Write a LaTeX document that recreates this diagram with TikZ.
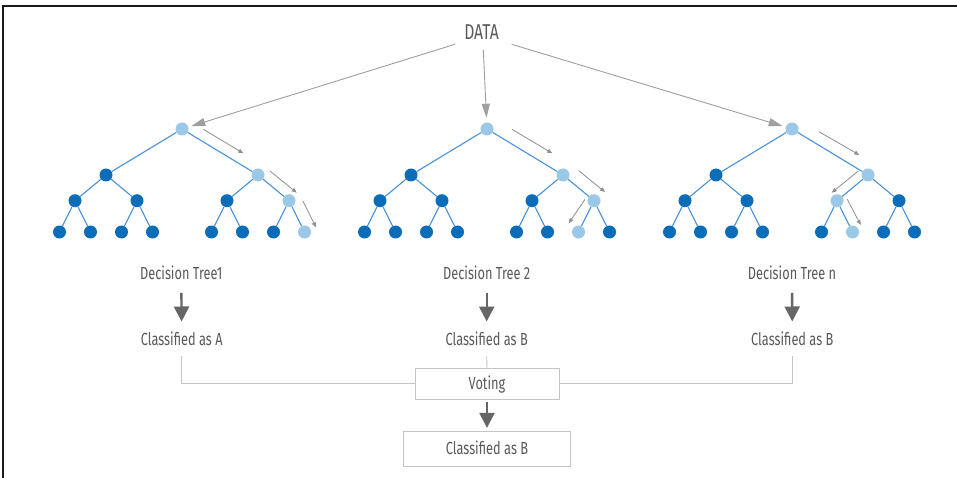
\documentclass[tikz,border=0pt]{standalone}
\usepackage{fontspec}
\setmainfont[FakeStretch=0.73]{Fira Sans}
\usetikzlibrary{arrows.meta}
\definecolor{dblue}{HTML}{0B6DB7}
\definecolor{lblue}{HTML}{9CC8E7}
\definecolor{eblue}{HTML}{4A92D8}
\definecolor{tgray}{HTML}{5A5A5A}
\definecolor{agray}{HTML}{8E8E8E}
\definecolor{hgray}{HTML}{666666}
\definecolor{bgray}{HTML}{C4C4C4}

\newcommand\hlnode[1]{\expandafter\def\csname hl@#1\endcsname{}}
\hlnode{t1r}\hlnode{t1b}\hlnode{t1bb}\hlnode{t1bbb}
\hlnode{t2r}\hlnode{t2b}\hlnode{t2bb}\hlnode{t2bba}
\hlnode{t3r}\hlnode{t3b}\hlnode{t3ba}\hlnode{t3bab}

\newcommand\treenode[3]{%
  \ifcsname hl@#1\endcsname\def\nodefill{lblue}\else\def\nodefill{dblue}\fi
  \node[tnode,fill=\nodefill] (#1) at (#2,#3) {};}

\newcommand\dtree[2]{%
  \treenode{#1r}{#2}{129}
  \foreach \s/\dx in {a/-76,b/76}{
    \pgfmathsetmacro\xa{#2+\dx}
    \treenode{#1\s}{\xa}{175}
    \draw[edge] (#1r) -- (#1\s);
    \foreach \t/\ex in {a/-31,b/31}{
      \pgfmathsetmacro\xb{\xa+\ex}
      \treenode{#1\s\t}{\xb}{200.7}
      \draw[edge] (#1\s) -- (#1\s\t);
      \foreach \u/\fx in {a/-15.5,b/15.5}{
        \pgfmathsetmacro\xc{\xb+\fx}
        \treenode{#1\s\t\u}{\xc}{232}
        \draw[edge] (#1\s\t) -- (#1\s\t\u);
      }
    }
  }
}

\tikzset{
  tnode/.style={circle, minimum size=13pt, inner sep=0pt, draw=none},
  edge/.style={draw=eblue, line width=1.1pt},
  parr/.style={draw=agray, line width=0.8pt, -{Triangle[length=5pt,width=4pt]}},
  bigarr/.style={draw=agray!85, line width=0.9pt, -{Triangle[length=14pt,width=8pt]}},
  thickarr/.style={draw=hgray, line width=2.4pt, -{Triangle[length=15pt,width=15pt]}},
  lbl/.style={text=tgray, font=\fontsize{17.5}{20}\selectfont, inner sep=0pt, anchor=base, text height=12pt, text depth=0pt},
  boxn/.style={draw=bgray, line width=0.9pt, text=tgray, font=\fontsize{17.5}{20}\selectfont, inner sep=0pt, text height=12pt, text depth=0pt},
  conn/.style={draw=bgray, line width=0.9pt},
}

\begin{document}
\begin{tikzpicture}[x=1pt,y=-1pt]
\useasboundingbox (0,0) rectangle (957,478);
\fill[white] (0,0) rectangle (957,478);
% frame
\draw[line width=1.6pt, black!90] (3,478) -- (3,6) -- (957,6);

% data
\node[text=tgray, font=\fontsize{21.5}{24}\selectfont, inner sep=0pt, anchor=base] (data) at (481.5,39.3) {DATA};

% trees
\dtree{t1}{182}
\dtree{t2}{487}
\dtree{t3}{792}

% data arrows
\coordinate (da1) at (455,44.3);
\coordinate (da2) at (483.3,50);
\coordinate (da3) at (511.7,44.3);
\draw[bigarr, shorten >=3pt] (da1) -- (t1r);
\draw[bigarr, shorten >=4.5pt] (da2) -- (t2r);
\draw[bigarr, shorten >=3pt] (da3) -- (t3r);

% path arrows tree 1
\coordinate (p11s) at (203.3,129.3); \coordinate (p11e) at (243.3,153.3);
\coordinate (p12s) at (270,171);     \coordinate (p12e) at (296.7,192.7);
\coordinate (p13s) at (302.7,200.7); \coordinate (p13e) at (316,227.3);
\draw[parr] (p11s) -- (p11e);
\draw[parr] (p12s) -- (p12e);
\draw[parr] (p13s) -- (p13e);
% path arrows tree 2
\coordinate (p21s) at (512,129.3);   \coordinate (p21e) at (552.3,153.3);
\coordinate (p22s) at (578.7,170.7); \coordinate (p22e) at (605,192);
\coordinate (p23s) at (585,199.3);   \coordinate (p23e) at (568.7,223.3);
\draw[parr] (p21s) -- (p21e);
\draw[parr] (p22s) -- (p22e);
\draw[parr] (p23s) -- (p23e);
% path arrows tree 3
\coordinate (p31s) at (819,131.7);   \coordinate (p31e) at (859.3,155);
\coordinate (p32s) at (858.3,171);   \coordinate (p32e) at (831.7,192.7);
\coordinate (p33s) at (847.3,199.3); \coordinate (p33e) at (860.7,225);
\draw[parr] (p31s) -- (p31e);
\draw[parr] (p32s) -- (p32e);
\draw[parr] (p33s) -- (p33e);

% labels
\node[lbl] (dt1) at (181.3,279.3) {Decision Tree1};
\node[lbl] (dt2) at (486.7,279.3) {Decision Tree 2};
\node[lbl] (dt3) at (792,279.3) {Decision Tree n};
\node[lbl] (ca1) at (181.7,345) {Classified as A};
\node[lbl] (ca2) at (486.7,345) {Classified as B};
\node[lbl] (ca3) at (792.3,345) {Classified as B};
\draw[thickarr, shorten <=13.4pt, shorten >=11.3pt] (dt1.south) -- (ca1.north);
\draw[thickarr, shorten <=13.4pt, shorten >=11.3pt] (dt2.south) -- (ca2.north);
\draw[thickarr, shorten <=13.4pt, shorten >=11.3pt] (dt3.south) -- (ca3.north);

% voting
\node[boxn, minimum width=144pt, minimum height=30.7pt] (vote) at (487,383.7) {Voting};
\node[boxn, minimum width=167.4pt, minimum height=35pt] (final) at (487,448.5) {Classified as B};
\draw[conn] ([yshift=-11pt]ca1.south) |- (vote.west);
\draw[conn] ([yshift=-11pt]ca2.south) -- (vote.north);
\draw[conn] ([yshift=-11pt]ca3.south) |- (vote.east);
\draw[thickarr, shorten <=2.7pt, shorten >=2.7pt] (vote.south) -- (final.north);
\end{tikzpicture}
\end{document}
